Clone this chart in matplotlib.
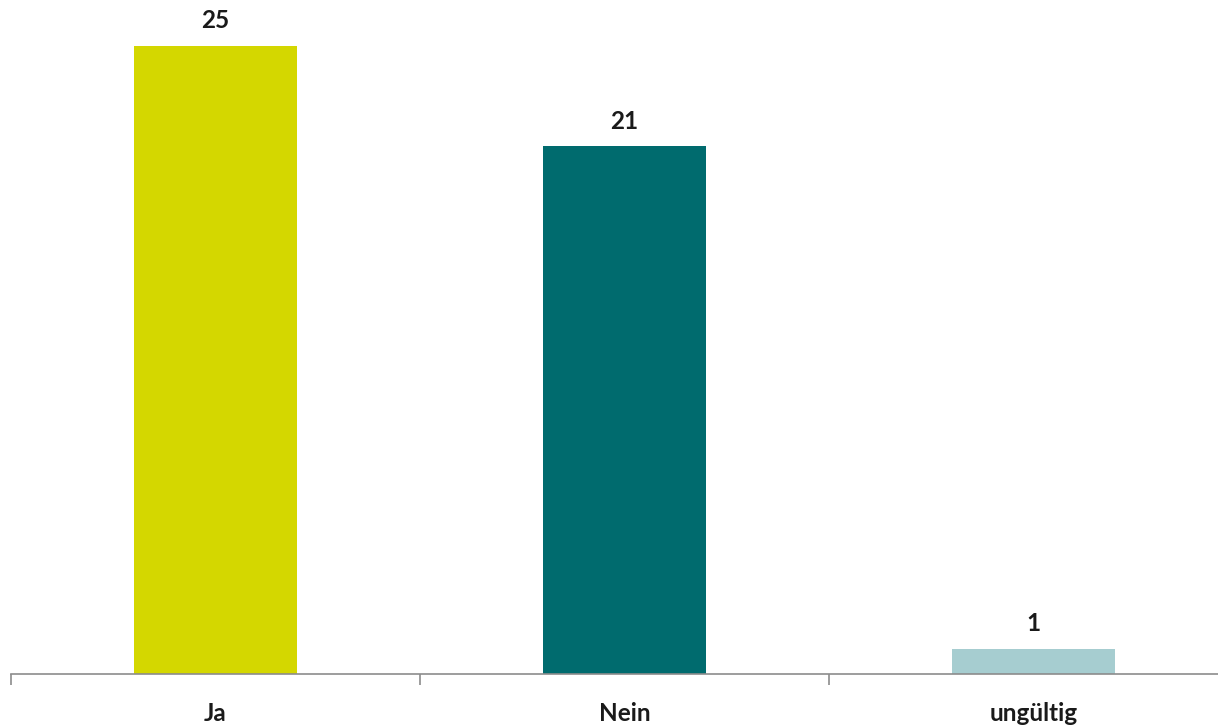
import matplotlib.pyplot as plt

categories = ["Ja", "Nein", "ungültig"]
values = [25, 21, 1]
colors = ["#D4D700", "#006B6E", "#A6CDD0"]

W, H = 1218, 728
fig = plt.figure(figsize=(W / 100, H / 100), dpi=100)
# axes: x from 11 px, each category 409 px wide; baseline at y=674, 25 units up to y=46
ax = fig.add_axes([11 / W, (H - 674) / H, 3 * 409 / W, 628 / H])

x = range(len(categories))
ax.bar(x, values, width=0.4, color=colors, zorder=1)
for xi, v in zip(x, values):
    ax.text(xi, v + 0.55, str(v), ha="center", va="bottom", fontsize=17.5,
            fontweight="bold", family="Lato", color="#1a1a1a", clip_on=False)

ax.set_xlim(-0.5, 2.5)
ax.set_ylim(0, 25)
for s in ["top", "right", "left"]:
    ax.spines[s].set_visible(False)
ax.spines["bottom"].set_color("#8c8c8c")
ax.spines["bottom"].set_linewidth(1.2)
ax.spines["bottom"].set_zorder(3)
ax.set_yticks([])

ax.set_xticks(list(x))
ax.set_xticklabels(categories, fontsize=17.5, fontweight="bold", family="Lato", color="#1a1a1a")
ax.tick_params(axis="x", which="major", length=0, pad=20)
ax.set_xticks([-0.5, 0.5, 1.5, 2.5], minor=True)
ax.tick_params(axis="x", which="minor", length=8, width=1.2, color="#8c8c8c")

fig.savefig("out.png", dpi=100)
